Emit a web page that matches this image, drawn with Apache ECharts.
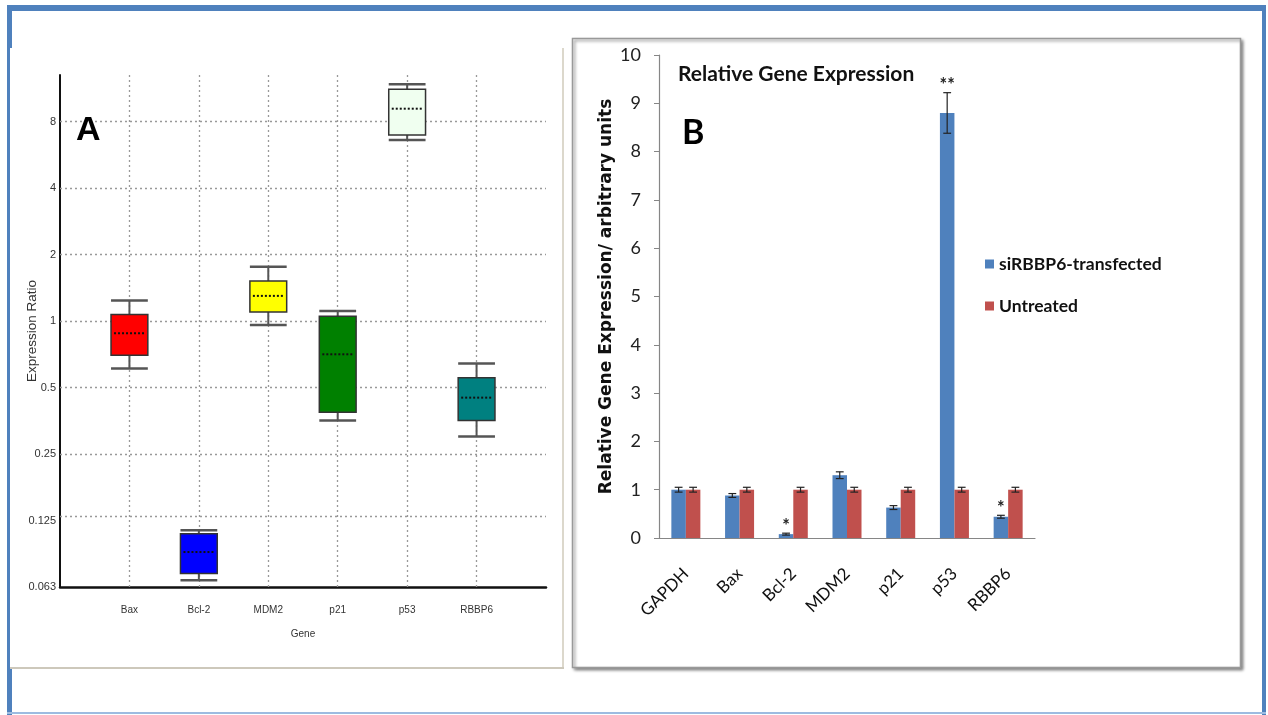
<!DOCTYPE html>
<html>
<head>
<meta charset="utf-8">
<script src="https://cdn.jsdelivr.net/npm/echarts@6/dist/echarts.min.js"></script>
<style>
  html, body { margin: 0; padding: 0; background: #fff; }
  #chart { width: 1268px; height: 715px; }
</style>
</head>
<body>
<div id="chart"></div>
<script>
// ---- Panel A: expression ratio per gene (box plots, log2 axis) ----
const genesA = ['Bax', 'Bcl-2', 'MDM2', 'p21', 'p53', 'RBBP6'];
const boxMin    = [0.61, 0.067, 0.96, 0.355, 6.6, 0.30];
const boxQ1     = [0.70, 0.072, 1.10, 0.386, 6.96, 0.355];
const boxMedian = [0.88, 0.090, 1.30, 0.707, 9.15, 0.45];
const boxQ3     = [1.07, 0.109, 1.52, 1.05, 11.2, 0.553];
const boxMax    = [1.24, 0.113, 1.76, 1.11, 11.8, 0.642];
const boxColors = ['#ff0000', '#0000ff', '#ffff00', '#008000', '#f0fff0', '#008080'];
const ratioTicks = [0.0625, 0.125, 0.25, 0.5, 1, 2, 4, 8];
const ratioTickLabels = ['0.063', '0.125', '0.25', '0.5', '1', '2', '4', '8'];

// ---- Panel B: relative gene expression (grouped bars with error bars) ----
const genesB = ['GAPDH', 'Bax', 'Bcl-2', 'MDM2', 'p21', 'p53', 'RBBP6'];
const transfected    = [1.0, 0.88, 0.08, 1.30, 0.63, 8.8, 0.44];
const transfectedErr = [0.05, 0.04, 0.02, 0.07, 0.04, 0.42, 0.03];
const untreated      = [1, 1, 1, 1, 1, 1, 1];
const untreatedErr   = [0.05, 0.05, 0.05, 0.05, 0.05, 0.05, 0.05];
const significance   = ['', '', '*', '', '', '**', '*'];

const BLUE = '#4f81bd';
const RED = '#c0504d';
const CAT_GAP = 0.46;

function renderBox(params, api) {
  const x = api.value(0);
  const lo = api.coord([x, api.value(1)]);
  const q1 = api.coord([x, api.value(2)]);
  const md = api.coord([x, api.value(3)]);
  const q3 = api.coord([x, api.value(4)]);
  const hi = api.coord([x, api.value(5)]);
  const w = api.size([1, 1])[0] * 0.53;
  const cx = lo[0], h = w / 2;
  const whisker = { stroke: '#555', lineWidth: 2 };
  return {
    type: 'group',
    children: [
      { type: 'line', shape: { x1: cx, y1: q3[1], x2: cx, y2: hi[1] }, style: whisker },
      { type: 'line', shape: { x1: cx, y1: q1[1], x2: cx, y2: lo[1] }, style: whisker },
      { type: 'line', shape: { x1: cx - h, y1: hi[1], x2: cx + h, y2: hi[1] }, style: { stroke: '#555', lineWidth: 2.5 } },
      { type: 'line', shape: { x1: cx - h, y1: lo[1], x2: cx + h, y2: lo[1] }, style: { stroke: '#555', lineWidth: 2.5 } },
      { type: 'rect', shape: { x: cx - h, y: q3[1], width: w, height: q1[1] - q3[1] },
        style: { fill: boxColors[params.dataIndex], stroke: '#333', lineWidth: 1.5 } },
      { type: 'line', shape: { x1: cx - h + 3, y1: md[1], x2: cx + h - 3, y2: md[1] },
        style: { stroke: '#111', lineWidth: 2, lineDash: [2, 2] } }
    ]
  };
}

function makeErrRender(side, marks) {
  return function (params, api) {
    const i = api.value(0), v = api.value(1), e = api.value(2);
    const band = api.size([1, 0])[0];
    const bw = band * (1 - CAT_GAP) / 2;
    const c = api.coord([i, v]);
    const cx = c[0] + side * bw / 2;
    const top = api.coord([i, v + e])[1];
    const bot = api.coord([i, v - e])[1];
    const cap = bw * 0.27;
    const st = { stroke: '#222', lineWidth: 1.2 };
    const children = [
      { type: 'line', shape: { x1: cx, y1: top, x2: cx, y2: bot }, style: st },
      { type: 'line', shape: { x1: cx - cap, y1: top, x2: cx + cap, y2: top }, style: st },
      { type: 'line', shape: { x1: cx - cap, y1: bot, x2: cx + cap, y2: bot }, style: st }
    ];
    if (marks && marks[params.dataIndex]) {
      children.push({
        type: 'text',
        style: { text: marks[params.dataIndex], x: cx, y: top + 2, textAlign: 'center', textVerticalAlign: 'bottom',
                 font: 'bold 18px Lato', fill: '#222' }
      });
    }
    return { type: 'group', children: children };
  };
}

const chart = echarts.init(document.getElementById('chart'), null, { renderer: 'canvas' });

const option = {
  animation: false,
  backgroundColor: '#fff',
  title: [
    { text: 'A', left: 76, top: 114, padding: 0,
      textStyle: { fontSize: 34, fontWeight: 'bold', fontFamily: 'Liberation Sans', color: '#000' } },
    { text: 'B', left: 682, top: 116, padding: 0,
      textStyle: { fontSize: 34, fontWeight: 'bold', fontFamily: 'Lato', color: '#000' } },
    { text: 'Relative Gene Expression', left: 678, top: 64, padding: 0,
      textStyle: { fontSize: 21, fontWeight: 'bold', fontFamily: 'Lato', color: '#111' } }
  ],
  graphic: [
    { type: 'rect', z: -10, shape: { x: 7, y: 5, width: 1259, height: 6 }, style: { fill: BLUE } },
    { type: 'rect', z: -10, shape: { x: 7, y: 5, width: 5, height: 710 }, style: { fill: BLUE } },
    { type: 'rect', z: -10, shape: { x: 1262, y: 5, width: 4, height: 710 }, style: { fill: BLUE } },
    { type: 'rect', z: -10, shape: { x: 7, y: 712, width: 1259, height: 2 }, style: { fill: '#9dbbe0' } },
    { type: 'rect', z: -9, shape: { x: 10, y: 48, width: 553, height: 620 }, style: { fill: '#fff' } },
    { type: 'line', z: -8, shape: { x1: 563, y1: 48, x2: 563, y2: 668 }, style: { stroke: '#dcd8cc', lineWidth: 2 } },
    { type: 'line', z: -8, shape: { x1: 10, y1: 668, x2: 564, y2: 668 }, style: { stroke: '#cdc8bb', lineWidth: 2 } },
    { type: 'rect', z: -8, shape: { x: 572.5, y: 38.5, width: 668, height: 629 },
      style: { fill: '#fff', stroke: '#999', lineWidth: 1.5, shadowBlur: 3, shadowOffsetX: 2, shadowOffsetY: 2,
               shadowColor: 'rgba(0,0,0,0.45)' } }
  ],
  legend: {
    data: ['siRBBP6-transfected', 'Untreated'],
    orient: 'vertical', left: 980, top: 250, itemGap: 24,
    icon: 'rect', itemWidth: 9, itemHeight: 9,
    textStyle: { fontSize: 17.5, fontWeight: 'bold', fontFamily: 'Lato', color: '#111' }
  },
  grid: [
    { left: 60, top: 75, width: 486, height: 512 },
    { left: 659, top: 55, width: 376, height: 483 }
  ],
  xAxis: [
    {
      gridIndex: 0, type: 'category', boundaryGap: false,
      data: [''].concat(genesA, ['']),
      name: 'Gene', nameLocation: 'middle', nameGap: 42,
      nameTextStyle: { fontSize: 10, fontFamily: 'Liberation Sans', color: '#333' },
      axisLine: { lineStyle: { color: '#111', width: 2.5 } },
      axisTick: { show: false },
      axisLabel: { interval: 0, margin: 18, fontSize: 10, fontFamily: 'Liberation Sans', color: '#333' },
      splitLine: { show: false }
    },
    {
      gridIndex: 1, type: 'category', data: genesB,
      axisLine: { lineStyle: { color: '#868686', width: 1.2 } },
      axisTick: { length: 7, lineStyle: { color: '#868686' } },
      axisLabel: { interval: 0, rotate: 45, margin: 33, fontSize: 17, fontFamily: 'Lato', color: '#111' }
    }
  ],
  yAxis: [
    {
      gridIndex: 0, type: 'log', logBase: 2, min: 0.0625, max: 13, splitNumber: 8,
      name: 'Expression Ratio', nameLocation: 'middle', nameGap: 21, nameRotate: 90, nameMoveOverlap: false,
      nameTextStyle: { fontSize: 13.5, fontFamily: 'Liberation Sans', color: '#333' },
      axisLine: { show: true, lineStyle: { color: '#111', width: 2 } },
      axisTick: { show: false },
      splitLine: { show: false },
      axisLabel: {
        margin: 4, fontSize: 11, fontFamily: 'Liberation Sans', color: '#333',
        formatter: function (v) {
          for (let k = 0; k < ratioTicks.length; k++) {
            if (Math.abs(v - ratioTicks[k]) < 1e-6 * ratioTicks[k]) return ratioTickLabels[k];
          }
          return '';
        }
      }
    },
    {
      gridIndex: 1, type: 'value', min: 0, max: 10, interval: 1,
      name: 'Relative Gene Expression/ arbitrary units', nameLocation: 'middle', nameGap: 44, nameRotate: 90,
      nameMoveOverlap: false,
      nameTextStyle: { fontSize: 17, fontWeight: 'bold', fontFamily: 'DejaVu Sans', color: '#111' },
      axisLine: { show: true, lineStyle: { color: '#868686', width: 1.2 } },
      axisTick: { show: true, length: 5, lineStyle: { color: '#868686' } },
      splitLine: { show: false },
      axisLabel: { margin: 18, fontSize: 18, fontFamily: 'Lato', color: '#222' }
    }
  ],
  series: [
    {
      // dotted reference grid for panel A
      type: 'line', xAxisIndex: 0, yAxisIndex: 0, data: [], z: 1, silent: true,
      markLine: {
        silent: true, symbol: ['none', 'none'], label: { show: false }, z: 1,
        lineStyle: { color: '#999', width: 1.3, type: [2, 3] },
        emphasis: { disabled: true },
        data: genesA.map((g, i) => ({ xAxis: i + 1 }))
          .concat(ratioTicks.slice(1).map(v => ({ yAxis: v })))
      }
    },
    {
      name: 'Expression ratio', type: 'custom', xAxisIndex: 0, yAxisIndex: 0, z: 5,
      renderItem: renderBox,
      encode: { x: 0, y: [1, 2, 3, 4, 5] },
      data: genesA.map((g, i) => [i + 1, boxMin[i], boxQ1[i], boxMedian[i], boxQ3[i], boxMax[i]])
    },
    {
      name: 'siRBBP6-transfected', type: 'bar', xAxisIndex: 1, yAxisIndex: 1,
      barGap: '0%', barCategoryGap: (CAT_GAP * 100) + '%',
      itemStyle: { color: BLUE }, data: transfected
    },
    {
      name: 'Untreated', type: 'bar', xAxisIndex: 1, yAxisIndex: 1,
      barGap: '0%', barCategoryGap: (CAT_GAP * 100) + '%',
      itemStyle: { color: RED }, data: untreated
    },
    {
      name: 'transfected error', type: 'custom', xAxisIndex: 1, yAxisIndex: 1, z: 6,
      renderItem: makeErrRender(-1, significance),
      encode: { x: 0, y: 1 },
      data: genesB.map((g, i) => [i, transfected[i], transfectedErr[i]])
    },
    {
      name: 'untreated error', type: 'custom', xAxisIndex: 1, yAxisIndex: 1, z: 6,
      renderItem: makeErrRender(1, null),
      encode: { x: 0, y: 1 },
      data: genesB.map((g, i) => [i, untreated[i], untreatedErr[i]])
    }
  ]
};

chart.setOption(option);
</script>
</body>
</html>
